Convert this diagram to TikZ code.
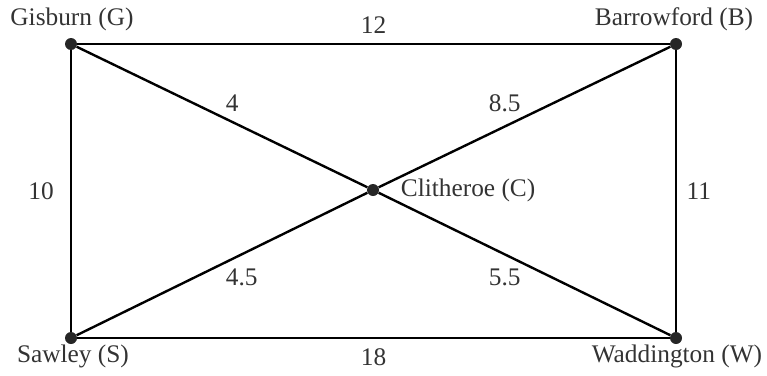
\documentclass[tikz,border=0pt]{standalone}
\usepackage{fontspec}
\setmainfont{Liberation Serif}
\usetikzlibrary{positioning}
\begin{document}
\begin{tikzpicture}[x=0.75pt, y=-0.75pt, font=\fontsize{19}{22}\selectfont,
    town/.style={circle, fill=black!85, inner sep=0pt, minimum size=9pt},
    road/.style={line width=1.8pt, black},
    lbl/.style={text=black!80, inner sep=2pt}]
    \useasboundingbox (0,0) rectangle (767,375);
    % Các thị trấn
    \node[town] (G) at (71,44) {};
    \node[town] (B) at (676,44) {};
    \node[town] (C) at (373,190) {};
    \node[town] (S) at (71,338) {};
    \node[town] (W) at (676,338) {};
    
    % Tên thị trấn
    \node[lbl] at (72,19) {Gisburn (G)};
    \node[lbl] at (674,19) {Barrowford (B)};
    \node[lbl, anchor=west] at (398,190) {Clitheroe (C)};
    \node[lbl] at (73,356) {Sawley (S)};
    \node[lbl] at (677,356) {Waddington (W)};
    
    % Các con đường
    \draw[road] (G) -- (B) node[lbl, midway, above=5pt] {12};
    \draw[road] (G) -- (S) node[lbl, midway, left=10pt] {10};
    \draw[road] (B) -- (W) node[lbl, midway, right=5pt] {11};
    \draw[road] (S) -- (W) node[lbl, midway, below=5pt] {18};
    \draw[road] (G) -- (C) node[lbl, midway, above right=1pt and 0pt] {4};
    \draw[road] (B) -- (C) node[lbl, midway, above left=1pt and 0pt] {8.5};
    \draw[road] (S) -- (C) node[lbl, midway, below right=1pt and 0pt] {4.5};
    \draw[road] (C) -- (W) node[lbl, midway, below left=1pt and 0pt] {5.5};
\end{tikzpicture}
\end{document}
